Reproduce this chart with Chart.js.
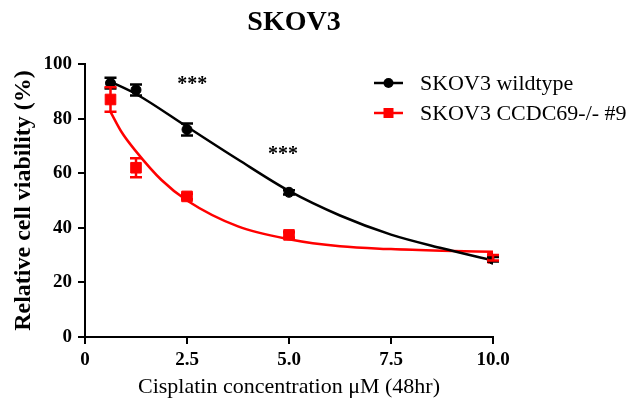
<!DOCTYPE html>
<html>
<head>
<meta charset="utf-8">
<script src="https://cdn.jsdelivr.net/npm/chart.js@4.4.0/dist/chart.umd.min.js"></script>
<style>
  html, body { margin: 0; padding: 0; background: #fff; }
  #wrap { width: 634px; height: 402px; }
</style>
</head>
<body>
<div id="wrap"><canvas id="viabilityChart" width="634" height="402"></canvas></div>
<script>
// measured points (cisplatin dose, uM)
const doses = [0.625, 1.25, 2.5, 5, 10];
const wildtype = [93, 90.5, 76, 53, 28.5];
const wildtypeErr = [2, 2, 2.2, 0.8, 0.8];
const knockout = [87, 62, 51.5, 37.4, 29];
const knockoutErr = [4.5, 3.5, 1, 1, 1];

// fitted curves
const wtFitX = [0.625, 1.25, 2.5, 3.75, 5, 6.25, 7.5, 8.75, 10];
const wtFitY = [93.5, 89, 77, 65, 53.5, 44.5, 37.5, 32.5, 28];
const koFitX = [0.625, 0.9, 1.25, 1.875, 2.5, 3.75, 5, 6.25, 7.5, 8.75, 10];
const koFitY = [82.5, 75, 68, 57.5, 50, 40.5, 35.8, 33.2, 32.2, 31.6, 31.2];

const xTickLabels = ['0', '2.5', '5.0', '7.5', '10.0'];
const seriesNames = ['SKOV3 wildtype', 'SKOV3 CCDC69-/- #9'];
const starX = [2.63, 4.85];
const starY = [93, 67.5];

const serif = "'Liberation Serif', 'Times New Roman', serif";

function pts(xs, ys) {
    return xs.map((x, i) => ({ x: x, y: ys[i] }));
}

// error bars + significance stars
const errorBars = {
    id: 'errorBars',
    afterDatasetsDraw(chart) {
        var ctx = chart.ctx;
        var xs = chart.scales.x, ys = chart.scales.y;
        var sets = [[wildtype, wildtypeErr, '#000'], [knockout, knockoutErr, '#ff0000']];
        ctx.save();
        sets.forEach(function (s) {
            ctx.strokeStyle = s[2];
            ctx.lineWidth = 2.5;
            doses.forEach(function (d, i) {
                var px = xs.getPixelForValue(d);
                var top = ys.getPixelForValue(s[0][i] + s[1][i]);
                var bot = ys.getPixelForValue(s[0][i] - s[1][i]);
                ctx.beginPath();
                ctx.moveTo(px, top); ctx.lineTo(px, bot);
                ctx.moveTo(px - 6, top); ctx.lineTo(px + 6, top);
                ctx.moveTo(px - 6, bot); ctx.lineTo(px + 6, bot);
                ctx.stroke();
            });
        });
        ctx.fillStyle = '#000';
        ctx.font = 'bold 20px ' + serif;
        ctx.textAlign = 'center';
        ctx.textBaseline = 'middle';
        starX.forEach(function (x, i) {
            ctx.fillText('***', xs.getPixelForValue(x), ys.getPixelForValue(starY[i]) + 2);
        });
        ctx.restore();
    }
};

// legend with line through marker
const customLegend = {
    id: 'customLegend',
    afterDraw(chart) {
        var ctx = chart.ctx;
        var colors = ['#000', '#ff0000'];
        ctx.save();
        seriesNames.forEach(function (name, i) {
            var y = 83 + i * 30;
            ctx.strokeStyle = colors[i];
            ctx.fillStyle = colors[i];
            ctx.lineWidth = 2.5;
            ctx.beginPath();
            ctx.moveTo(374, y); ctx.lineTo(403, y);
            ctx.stroke();
            ctx.beginPath();
            if (i === 0) {
                ctx.arc(388.5, y, 5, 0, Math.PI * 2);
            } else {
                ctx.rect(383.5, y - 5, 10, 10);
            }
            ctx.fill();
            ctx.fillStyle = '#000';
            ctx.font = '22px ' + serif;
            ctx.textBaseline = 'middle';
            ctx.fillText(name, 420, y + 1);
        });
        ctx.restore();
    }
};

new Chart(document.getElementById('viabilityChart').getContext('2d'), {
    type: 'scatter',
    data: {
        datasets: [
            {
                label: seriesNames[0],
                data: pts(doses, wildtype),
                backgroundColor: '#000',
                borderColor: '#000',
                pointStyle: 'circle',
                pointRadius: 5,
                order: 1
            },
            {
                label: seriesNames[1],
                data: pts(doses, knockout),
                backgroundColor: '#ff0000',
                borderColor: '#ff0000',
                pointStyle: 'rect',
                pointRadius: 7.5,
                order: 1
            },
            {
                label: 'wt fit',
                data: pts(wtFitX, wtFitY),
                showLine: true,
                borderColor: '#000',
                borderWidth: 2.5,
                pointRadius: 0,
                cubicInterpolationMode: 'monotone',
                order: 2
            },
            {
                label: 'ko fit',
                data: pts(koFitX, koFitY),
                showLine: true,
                borderColor: '#ff0000',
                borderWidth: 2.5,
                pointRadius: 0,
                cubicInterpolationMode: 'monotone',
                order: 2
            }
        ]
    },
    options: {
        responsive: false,
        animation: false,
        layout: { padding: { top: 64, right: 141, bottom: 0, left: 0 } },
        plugins: {
            legend: { display: false },
            tooltip: { enabled: false },
            title: { display: false }
        },
        scales: {
            x: {
                type: 'linear',
                min: 0,
                max: 10,
                afterFit: function (s) { s.height = 65; },
                afterBuildTicks: function (s) {
                    s.ticks = xTickLabels.map(t => ({ value: parseFloat(t) }));
                },
                ticks: {
                    color: '#000',
                    font: { family: serif, size: 19, weight: 'bold' },
                    padding: 5,
                    maxRotation: 0,
                    callback: function (v, i) { return xTickLabels[i]; }
                },
                grid: { drawOnChartArea: false, color: '#000', lineWidth: 2, tickLength: 7 },
                border: { color: '#000', width: 2 },
                title: {
                    display: true,
                    text: 'Cisplatin concentration μM (48hr)',
                    color: '#000',
                    font: { family: serif, size: 22 },
                    padding: { top: 0, bottom: 2 }
                }
            },
            y: {
                min: 0,
                max: 100,
                afterFit: function (s) { s.width = 85; },
                ticks: {
                    stepSize: 20,
                    color: '#000',
                    font: { family: serif, size: 19, weight: 'bold' },
                    padding: 6
                },
                grid: { drawOnChartArea: false, color: '#000', lineWidth: 2, tickLength: 7 },
                border: { color: '#000', width: 2 },
                title: {
                    display: true,
                    text: 'Relative cell viability (%)',
                    color: '#000',
                    font: { family: serif, size: 24, weight: 'bold' },
                    padding: { top: 9, bottom: 0 }
                }
            }
        }
    },
    plugins: [errorBars, customLegend, {
        id: 'mainTitle',
        afterDraw(chart) {
            var ctx = chart.ctx;
            ctx.save();
            ctx.fillStyle = '#000';
            ctx.font = 'bold 28px ' + serif;
            ctx.textAlign = 'center';
            ctx.textBaseline = 'middle';
            ctx.fillText('SKOV3', 294, 23);
            ctx.restore();
        }
    }]
});
</script>
</body>
</html>
